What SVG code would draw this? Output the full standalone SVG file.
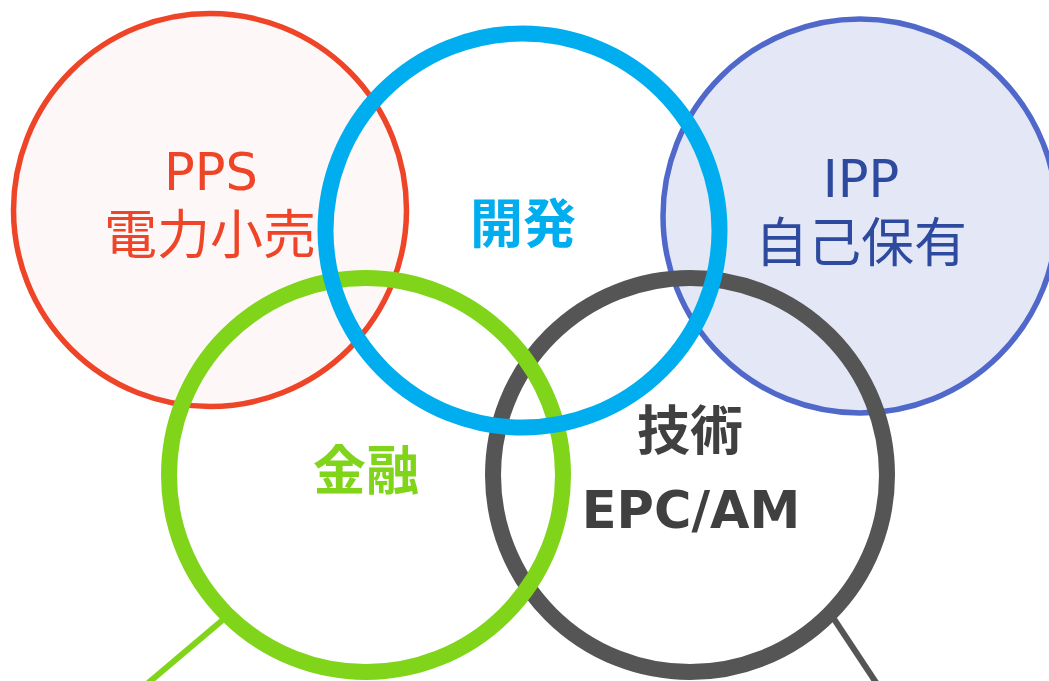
<svg xmlns="http://www.w3.org/2000/svg" width="1049" height="681" viewBox="0 0 1049 681">
<style>
.t{font-family:"DejaVu Sans","Noto Sans CJK JP",sans-serif;text-anchor:middle}
.b{font-weight:bold}
.ring{fill:none;stroke-width:16}
.thin{stroke-width:5.5}
.ln{stroke-width:6;stroke-linecap:butt}
</style>
<rect width="1049" height="681" fill="#ffffff"/>
<g id="node-pps">
<circle cx="210" cy="210" r="196.5" fill="#FDF7F7" stroke="#EE4427" class="thin"/>
<text class="t" x="211" y="190" font-size="51" fill="#EE4427">PPS</text>
<text class="t" x="210" y="254" font-size="53" fill="#EE4427">電力小売</text>
</g>
<g id="node-ipp">
<circle cx="860" cy="216" r="197" fill="#E4E8F6" stroke="#4F68C9" class="thin"/>
<text class="t" x="861" y="197" font-size="51" fill="#2E4A9E">IPP</text>
<text class="t" x="861" y="262" font-size="53" fill="#2E4A9E">自己保有</text>
</g>
<g id="connectors">
<line x1="225" y1="618" x2="147" y2="684" stroke="#80D41A" class="ln"/>
<line x1="832" y1="616" x2="877" y2="684" stroke="#555555" class="ln"/>
</g>
<g id="node-tech">
<circle cx="690" cy="475" r="197" class="ring" stroke="#555555"/>
<text class="t b" x="690" y="450" font-size="53" fill="#404040">技術</text>
<text class="t b" x="691" y="528" font-size="51" fill="#404040">EPC/AM</text>
</g>
<g id="node-finance">
<circle cx="366" cy="475" r="197" class="ring" stroke="#80D41A"/>
<text class="t b" x="366" y="490" font-size="53" fill="#80D41A">金融</text>
</g>
<g id="node-dev">
<circle cx="522.5" cy="230.5" r="197" class="ring" stroke="#00AEEF"/>
<text class="t b" x="523" y="243" font-size="53" fill="#00AEEF">開発</text>
</g>
</svg>
